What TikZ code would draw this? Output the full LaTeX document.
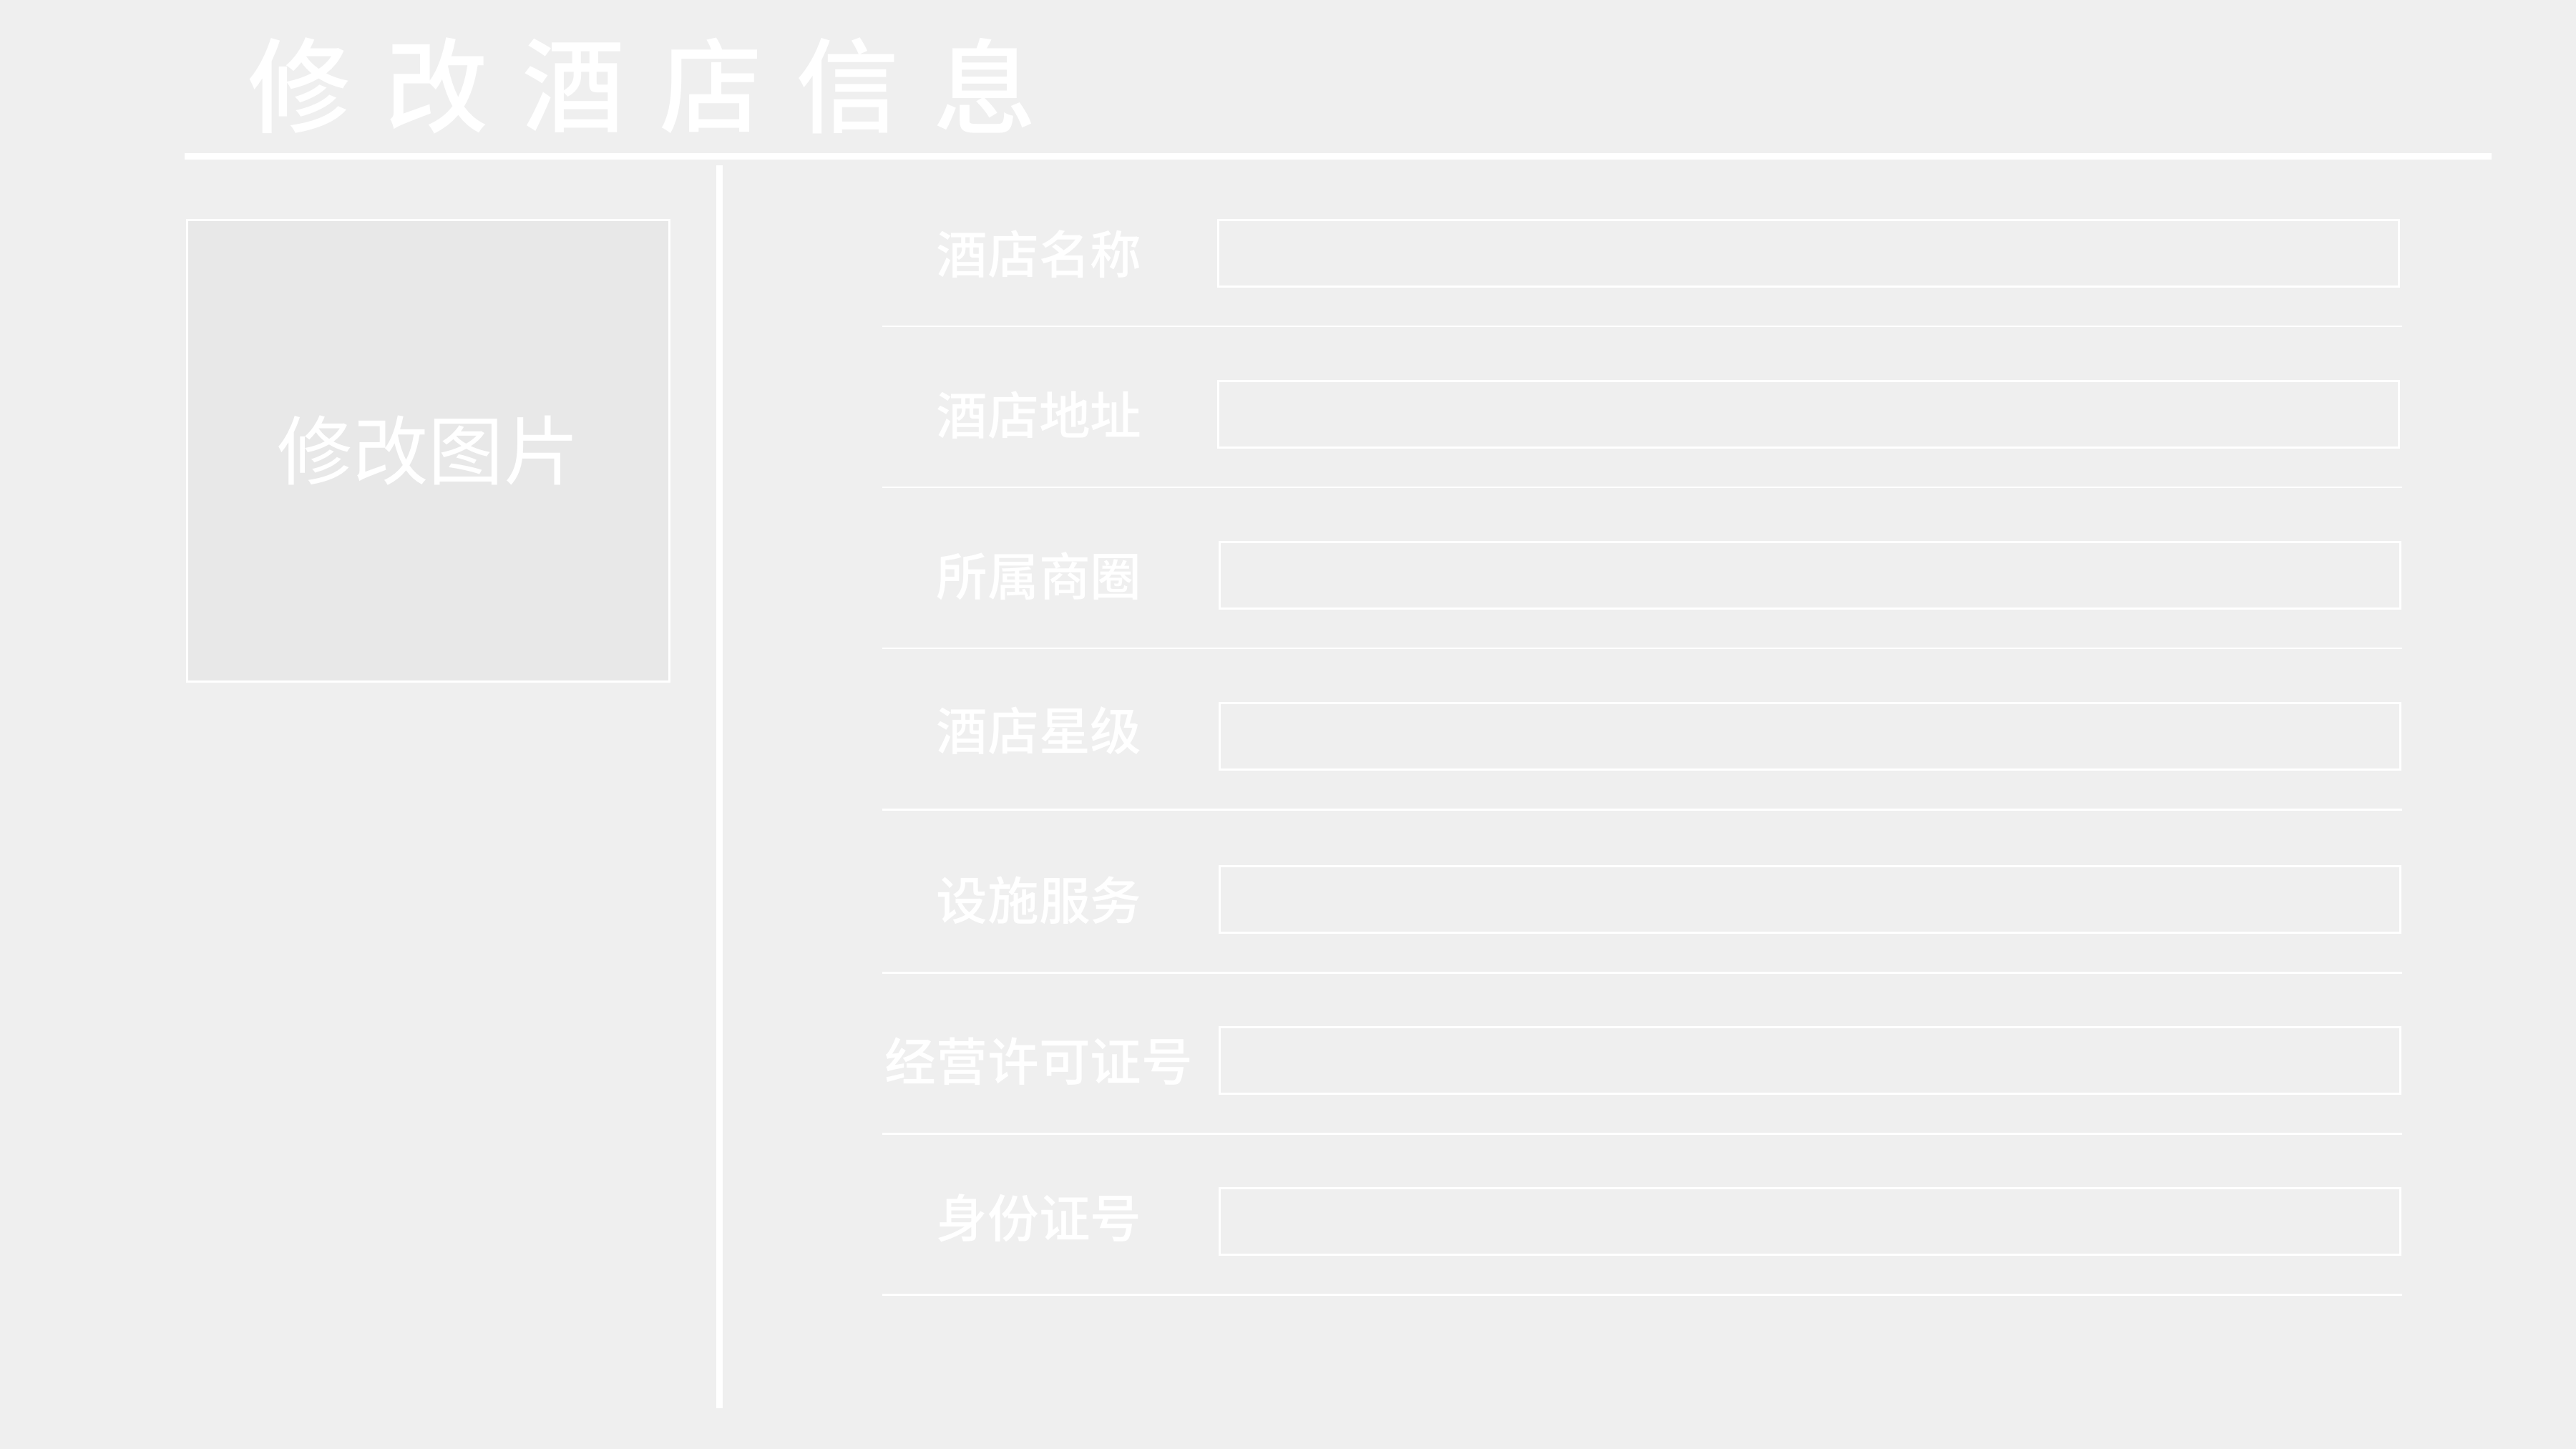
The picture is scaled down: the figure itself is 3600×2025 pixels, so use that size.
\documentclass[tikz,border=0pt]{standalone}
\usepackage{fontspec}
\newfontfamily\cjk{Noto Sans CJK SC}
\newfontfamily\cjkmed{Noto Sans CJK SC Medium}
\definecolor{pagebg}{HTML}{EFEFEF}
\definecolor{photobg}{HTML}{E8E8E8}
\tikzset{
  titlechar/.style={text=white,inner sep=0pt,font=\cjkmed\fontsize{41pt}{41pt}\selectfont},
  fieldlabel/.style={text=white,inner sep=0pt,font=\cjkmed\fontsize{20.4pt}{20.4pt}\selectfont},
  fieldbox/.style={draw=white,line width=0.85pt,fill=none,inner sep=0pt,minimum width=16.49cm,minimum height=0.92cm},
  rowline/.style={white,line width=0.85pt},
}

\begin{document}
\begin{tikzpicture}[x=0.01cm,y=-0.01cm]
\fill[pagebg] (0,0) rectangle (3600,2025);

% title
\node[titlechar] (t1) at (419,119.5) {修};
\node[titlechar] (t2) at (611,119.5) {改};
\node[titlechar] (t3) at (802,119.5) {酒};
\node[titlechar] (t4) at (994,119.5) {店};
\node[titlechar] (t5) at (1185,119.5) {信};
\node[titlechar] (t6) at (1377,119.5) {息};
\draw[white,line width=2.56pt] (258,218.5) -- (3482,218.5);

% picture panel
\node[draw=white,fill=photobg,line width=0.85pt,minimum width=6.74cm,minimum height=6.45cm,inner sep=0pt,
      text=white,font=\cjk\fontsize{30pt}{30pt}\selectfont] (photo) at (598.5,630) {修改图片};
\draw[white,line width=2.56pt] (1005,231) -- (1005,1968);

% form rows
\node[fieldlabel] (l1) at (1452,355) {酒店名称};
\node[fieldbox] (f1) at (2527,354) {};
\draw[rowline] (1233,456) -- (3357,456);

\node[fieldlabel] (l2) at (1452,580) {酒店地址};
\node[fieldbox] (f2) at (2527,579) {};
\draw[rowline] (1233,681) -- (3357,681);

\node[fieldlabel] (l3) at (1452,805) {所属商圈};
\node[fieldbox] (f3) at (2529,804) {};
\draw[rowline] (1233,906) -- (3357,906);

\node[fieldlabel] (l4) at (1452,1021) {酒店星级};
\node[fieldbox] (f4) at (2529,1029) {};
\draw[rowline] (1233,1131) -- (3357,1131);

\node[fieldlabel] (l5) at (1452,1258) {设施服务};
\node[fieldbox] (f5) at (2529,1257) {};
\draw[rowline] (1233,1359) -- (3357,1359);

\node[fieldlabel] (l6) at (1452,1483) {经营许可证号};
\node[fieldbox] (f6) at (2529,1482) {};
\draw[rowline] (1233,1584) -- (3357,1584);

\node[fieldlabel] (l7) at (1452,1702) {身份证号};
\node[fieldbox] (f7) at (2529,1707) {};
\draw[rowline] (1233,1809) -- (3357,1809);
\end{tikzpicture}
\end{document}
